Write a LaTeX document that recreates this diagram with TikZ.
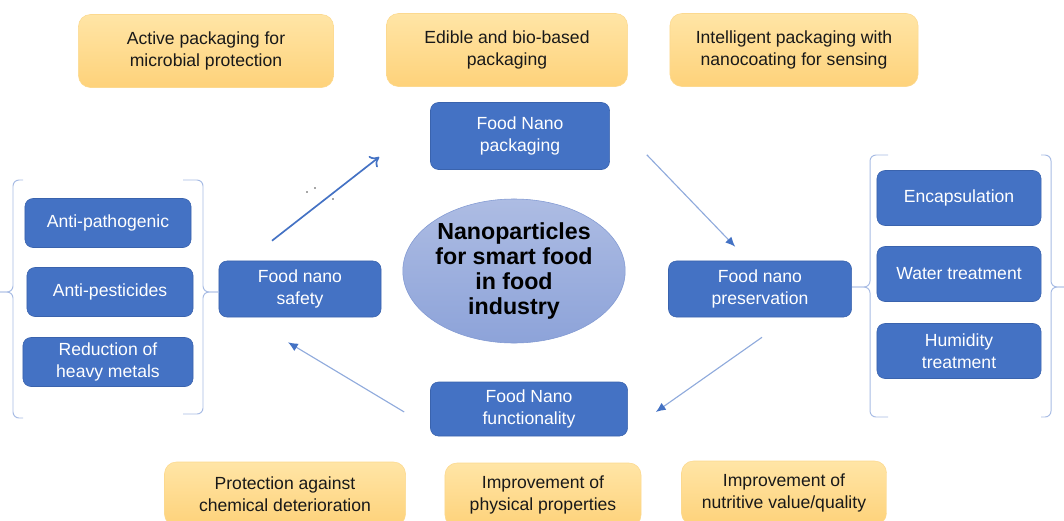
\documentclass[tikz,border=0pt]{standalone}
\usepackage{fontspec}
\setmainfont{Liberation Sans}
\usepackage{xcolor}
\usepackage{tikz}
\usetikzlibrary{shapes.geometric, arrows.meta}

\definecolor{ideaTop}{HTML}{FFE5A6}
\definecolor{ideaBot}{HTML}{FED27A}
\definecolor{ideaLine}{HTML}{FCD98F}
\definecolor{nanoBlue}{HTML}{4472C4}
\definecolor{nanoLine}{HTML}{3A63AD}
\definecolor{coreTop}{HTML}{ADBCE3}
\definecolor{coreBot}{HTML}{8DA3D9}
\definecolor{coreLine}{HTML}{8199D2}
\definecolor{paleBlue}{HTML}{8FAADC}
\definecolor{braceBlue}{HTML}{A8BCE4}

\tikzstyle{idea} = [rectangle, rounded corners=0.3cm, top color=ideaTop, bottom color=ideaBot, draw=ideaLine, align=center, text=black!90, font=\fontsize{12.5}{15.6}\selectfont]
\tikzstyle{nano} = [rectangle, rounded corners=0.2cm, fill=nanoBlue, draw=nanoLine, text=white, align=center, font=\fontsize{12.5}{15.6}\selectfont]
\tikzstyle{core} = [ellipse, top color=coreTop, bottom color=coreBot, draw=coreLine, inner sep=0pt, minimum width=5.5cm, minimum height=3.6cm, align=center, font=\fontsize{16.5}{17.8}\selectfont\bfseries]
\tikzstyle{mainflow} = [line width=1.2pt, draw=nanoBlue, -{To[length=6pt,width=10pt,line width=1.2pt]}]
\tikzstyle{thinflow} = [line width=0.8pt, draw=paleBlue, -{Latex[color=nanoBlue,length=7pt,width=6pt]}]
\tikzstyle{bracket} = [draw=braceBlue, line width=0.7pt, rounded corners=0.15cm]

\begin{document}
\begin{tikzpicture}[x=0.025cm, y=-0.025cm]
		\useasboundingbox (0,0) rectangle (1064,520);

		% Central idea:
		\node [core] (center) at (514,271) {Nanoparticles\\for smart food\\in food\\industry};

		% The four application areas round the centre:
		\node [nano, minimum width=4.475cm, minimum height=1.675cm] (pack)    at (520,136) {Food Nano\\packaging};
		\node [nano, minimum width=4.05cm,  minimum height=1.4cm]   (safety)  at (300,289) {Food nano\\safety};
		\node [nano, minimum width=4.575cm, minimum height=1.4cm]   (preserv) at (760,289) {Food nano\\preservation};
		\node [nano, minimum width=4.925cm, minimum height=1.35cm]  (func)    at (529,409) {Food Nano\\functionality};

		% Safety group on the left:
		\node [nano, minimum width=4.15cm, minimum height=1.225cm] (antipath) at (108,223) {Anti-pathogenic};
		\node [nano, minimum width=4.15cm, minimum height=1.225cm] (antipest) at (110,292) {Anti-pesticides};
		\node [nano, minimum width=4.25cm, minimum height=1.225cm] (metals)   at (108,362) {Reduction of\\heavy metals};

		% Preservation group on the right:
		\node [nano, minimum width=4.1cm, minimum height=1.375cm] (encaps)   at (959,198) {Encapsulation};
		\node [nano, minimum width=4.1cm, minimum height=1.375cm] (water)    at (959,274) {Water treatment};
		\node [nano, minimum width=4.1cm, minimum height=1.375cm] (humidity) at (959,351) {Humidity\\treatment};

		% Packaging ideas on top:
		\node [idea, minimum width=6.375cm, minimum height=1.825cm] (active)  at (206,51) {Active packaging for\\microbial protection};
		\node [idea, minimum width=6.025cm, minimum height=1.825cm] (edible)  at (507,50) {Edible and bio-based\\packaging};
		\node [idea, minimum width=6.2cm,   minimum height=1.825cm] (sensing) at (794,50) {Intelligent packaging with\\nanocoating for sensing};

		% Functionality ideas below (cut by the page edge):
		\node [idea, minimum width=6.025cm, minimum height=1.6cm] (chem)     at (285,494) {Protection against\\chemical deterioration};
		\node [idea, minimum width=4.9cm,   minimum height=1.6cm] (physical) at (543,495) {Improvement of\\physical properties};
		\node [idea, minimum width=5.125cm, minimum height=1.6cm] (nutri)    at (784,493) {Improvement of\\nutritive value/quality};

		% Brackets round the two groups:
		\draw [bracket] (23,180) -- (13,180) -- (13,292) -- (0,292);
		\draw [bracket] (0,292) -- (13,292) -- (13,418) -- (23,418);
		\draw [bracket] (183,180) -- (203,180) -- (203,292) -- (219,292);
		\draw [bracket] (219,292) -- (203,292) -- (203,414) -- (183,414);
		\draw [bracket] (888,155) -- (870,155) -- (870,287) -- (852,287);
		\draw [bracket] (852,287) -- (870,287) -- (870,417) -- (888,417);
		\draw [bracket] (1041,155) -- (1051,155) -- (1051,287) -- (1064,287);
		\draw [bracket] (1064,287) -- (1051,287) -- (1051,417) -- (1041,417);

		% Cycle of arrows:
		\coordinate (s1) at ([shift={(-28,-20)}]safety.north);
		\coordinate (p0) at ([shift={(-51,21)}]pack.west);
		\coordinate (p1) at ([shift={(37,-15)}]pack.south east);
		\coordinate (r0) at ([shift={(67,-14)}]preserv.north west);
		\coordinate (r1) at ([shift={(2,20)}]preserv.south);
		\coordinate (f0) at ([shift={(28,3)}]func.east);
		\coordinate (f1) at ([shift={(-26,3)}]func.west);
		\coordinate (s0) at ([shift={(-12,25)}]safety.south);
		\draw [mainflow] (s1) -- (p0);
		\draw [thinflow] (p1) -- (r0);
		\draw [thinflow] (r1) -- (f0);
		\draw [thinflow] (f1) -- (s0);

		% Stray dots beside the first arrow:
		\fill [black!70] (307,192) circle (0.6pt) (315,188) circle (0.6pt) (333,199) circle (0.6pt);
\end{tikzpicture}
\end{document}
